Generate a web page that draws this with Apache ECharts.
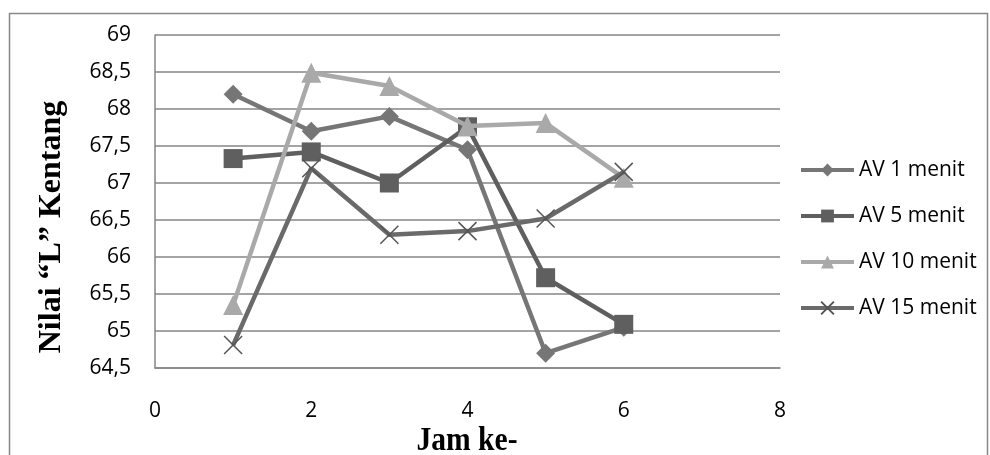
<!DOCTYPE html>
<html><head><meta charset="utf-8">
<script src="https://cdn.jsdelivr.net/npm/echarts@6/dist/echarts.min.js"></script>
<style>html,body{margin:0;padding:0;background:#fff}#c{width:990px;height:455px}</style>
</head><body><div id="c"></div>
<script>
const xValues = [1, 2, 3, 4, 5, 6];
const seriesNames = ['AV 1 menit', 'AV 5 menit', 'AV 10 menit', 'AV 15 menit'];
const av1 = [68.2, 67.7, 67.9, 67.45, 64.7, 65.05];
const av5 = [67.33, 67.42, 67.0, 67.76, 65.72, 65.09];
const av10 = [65.35, 68.49, 68.31, 67.77, 67.81, 67.07];
const av15 = [64.81, 67.2, 66.3, 66.35, 66.52, 67.15];
const yTicks = [64.5, 65, 65.5, 66, 66.5, 67, 67.5, 68, 68.5, 69];
const xTicks = [0, 2, 4, 6, 8];
const yTitle = 'Nilai \u201cL\u201d Kentang';
const xTitle = 'Jam ke-';

const colors = ['#767676', '#5f5f5f', '#a9a9a9', '#6a6a6a'];
const symbols = ['diamond', 'rect', 'triangle', 'path://M0,0L10,10M10,0L0,10'];
const sizes = [19, 19, 20, 18];
const allData = [av1, av5, av10, av15];

const chart = echarts.init(document.getElementById('c'));
const fontSans = '"Open Sans", "Liberation Sans", sans-serif';
const fontSerif = '"Liberation Serif", "DejaVu Serif", serif';
chart.setOption({
  animation: false,
  backgroundColor: '#fff',
  grid: { left: 155, right: 210, top: 35, bottom: 87, containLabel: false, outerBoundsMode: 'none' },
  graphic: [{
    type: 'rect', shape: { x: 9.5, y: 13.5, width: 978, height: 460 },
    style: { fill: 'none', stroke: '#888', lineWidth: 1.5 }, silent: true
  }, {
    type: 'text', x: 52, y: 227, rotation: Math.PI / 2,
    style: { text: yTitle, fontFamily: fontSerif, fontWeight: 'bold', fontSize: 32,
      fill: '#000', align: 'center', verticalAlign: 'middle' }, silent: true
  }, {
    type: 'text', x: 467, y: 441, scaleX: 0.87,
    style: { text: xTitle, fontFamily: fontSerif, fontWeight: 'bold', fontSize: 34,
      fill: '#000', align: 'center', verticalAlign: 'middle' }, silent: true
  }],
  xAxis: {
    type: 'value', min: 0, max: 8, interval: 2,
    axisLine: { show: true, lineStyle: { color: '#868686', width: 1.5 } },
    axisTick: { show: false },
    splitLine: { show: false },
    axisLabel: { margin: 33, fontFamily: fontSans, fontSize: 21, color: '#000' }
  },
  yAxis: {
    type: 'value', min: 64.5, max: 69, interval: 0.5,
    axisLine: { show: true, lineStyle: { color: '#868686', width: 1.5 } },
    axisTick: { show: false },
    splitLine: { show: true, lineStyle: { color: '#868686', width: 1.5 } },
    axisLabel: { margin: 24, fontFamily: fontSans, fontSize: 21, color: '#000',
      formatter: v => String(v).replace('.', ',') }
  },
  legend: {
    orient: 'vertical', left: 794, top: 154, itemGap: 24, itemWidth: 53, itemHeight: 16,
    lineStyle: { width: 4 },
    textStyle: { fontFamily: fontSans, fontSize: 21, lineHeight: 22, color: '#000' },
    data: seriesNames
  },
  series: seriesNames.map((n, i) => ({
    name: n, type: 'line',
    data: xValues.map((x, j) => [x, allData[i][j]]),
    symbol: symbols[i], symbolSize: sizes[i],
    showSymbol: true,
    lineStyle: { color: colors[i], width: 4.5 },
    itemStyle: i === 3
      ? { color: 'rgba(0,0,0,0)', borderColor: '#555', borderWidth: 1.5 }
      : { color: colors[i] },
    z: 2 + i
  }))
});
</script></body></html>
